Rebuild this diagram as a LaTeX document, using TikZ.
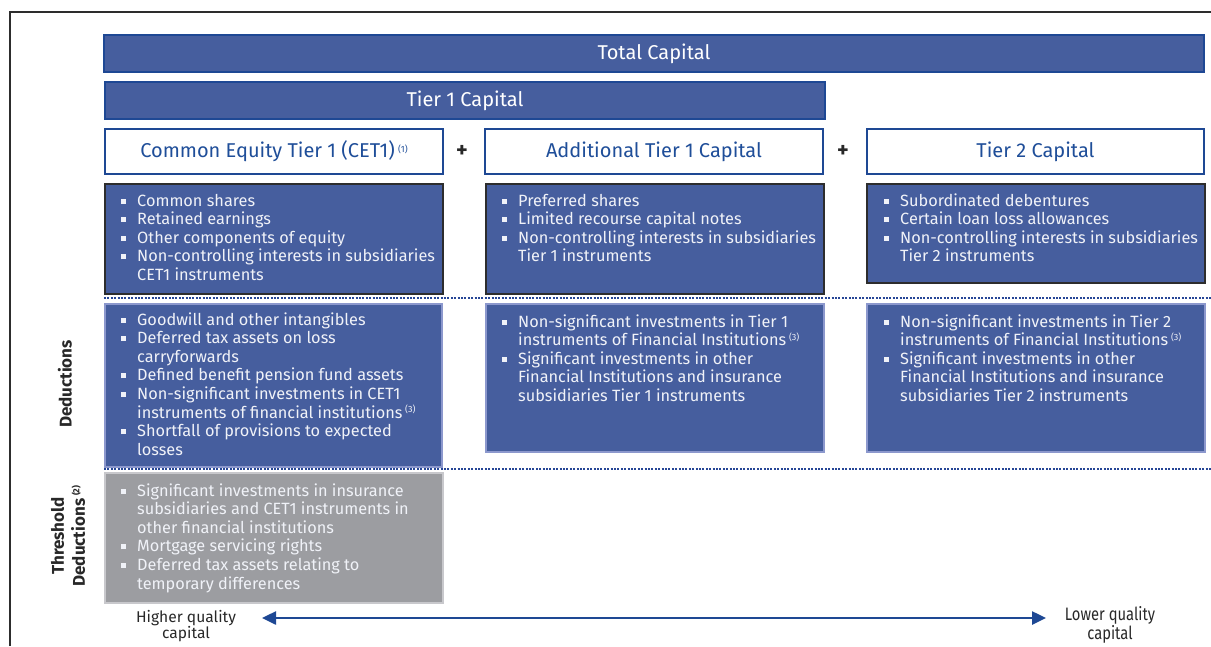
\documentclass[tikz,border=0pt]{standalone}
\usepackage{fontspec}
\setmainfont{Fira Sans}
\usetikzlibrary{arrows.meta}
\definecolor{boxblue}{RGB}{70,94,158}
\definecolor{edgeblue}{RGB}{30,72,148}
\definecolor{hdrblue}{RGB}{31,78,153}
\definecolor{dotblue}{RGB}{38,70,150}
\definecolor{dedge}{RGB}{140,152,205}
\definecolor{greybox}{RGB}{156,157,161}
\definecolor{greyedge}{RGB}{200,200,204}
\definecolor{itemwhite}{RGB}{240,242,248}
\definecolor{framegrey}{RGB}{45,45,45}
\definecolor{lbltext}{RGB}{40,40,40}
\newcommand{\blt}{\makebox[16pt][l]{\rule[2.5pt]{5pt}{5pt}}}
\newcommand{\sups}[1]{\,{\fontsize{9}{9}\selectfont\raisebox{5.5pt}{(#1)}}}
\tikzset{
  x=1pt, y=-1pt,
  bar/.style={draw=edgeblue, line width=2pt, fill=boxblue, inner sep=0pt, anchor=north west,
    text=white, font=\fontsize{20}{24}\selectfont},
  hdr/.style={draw=edgeblue, line width=2pt, fill=white, inner sep=0pt, anchor=north west,
    text=hdrblue, font=\fontsize{20}{24}\selectfont},
  itembox/.style={draw=framegrey, line width=2pt, fill=boxblue, inner sep=0pt, anchor=north west},
  dedbox/.style={draw=dedge, line width=2pt, fill=boxblue, inner sep=0pt, anchor=north west},
  thrbox/.style={draw=greyedge, line width=1.5pt, fill=greybox, inner sep=0pt, anchor=north west},
  items/.style={anchor=base west, inner sep=0pt, text=itemwhite, font=\fontsize{16.3}{18.6}\selectfont},
  dotline/.style={draw=dotblue, line width=2.6pt, dash pattern=on 2pt off 1.4pt},
  sidelbl/.style={rotate=90, font=\bfseries\fontsize{17}{21}\selectfont, text=lbltext, align=center, inner sep=0pt},
  plus/.style={font=\bfseries\fontsize{22}{24}\selectfont, text=lbltext, inner sep=0pt},
  qual/.style={font=\fontsize{15.6}{16.5}\selectfont, text=lbltext, align=center, inner sep=0pt},
  qarrow/.style={draw=edgeblue, line width=2.5pt, {Triangle[length=14pt,width=13pt]}-{Triangle[length=14pt,width=13pt]}}
}
\begin{document}
\begin{tikzpicture}
\useasboundingbox (0,0) rectangle (1211,646);
% frame
\draw[framegrey, line width=2pt] (10,646) -- (10,12) -- (1211,12);

% top bars
\node[bar, minimum width=1100pt, minimum height=37pt] (total) at (103,34) {};
\node[text=white, font=\fontsize{20}{24}\selectfont] (totaltxt) at (total.center) {Total Capital};
\node[bar, minimum width=720pt, minimum height=37pt] (tier1) at (104,81) {};
\node[text=white, font=\fontsize{20}{24}\selectfont] (tier1txt) at (tier1.center) {Tier 1 Capital};

% headers
\node[hdr, minimum width=338pt, minimum height=45pt] (cet1h) at (104,128) {Common Equity Tier 1 (CET1)\sups{1}};
\node[plus] (plus1) at (462,151) {+};
\node[hdr, minimum width=338pt, minimum height=45pt] (at1h) at (484,128) {Additional Tier 1 Capital};
\node[plus] (plus2) at (843,151) {+};
\node[hdr, minimum width=337pt, minimum height=45pt] (t2h) at (866,128) {Tier 2 Capital};

% components
\node[itembox, minimum width=338pt, minimum height=110pt] (cet1i) at (104,183) {};
\node[itembox, minimum width=338pt, minimum height=110pt] (at1i) at (485,183) {};
\node[itembox, minimum width=338pt, minimum height=99pt] (t2i) at (866,183) {};

\node[items] (cet1it) at (121,206) {\begin{tabular}[t]{@{}l@{}l@{}}
\blt & Common shares\\
\blt & Retained earnings\\
\blt & Other components of equity\\
\blt & Non-controlling interests in subsidiaries\\
 & CET1 instruments
\end{tabular}};
\node[items] (at1it) at (502,206) {\begin{tabular}[t]{@{}l@{}l@{}}
\blt & Preferred shares\\
\blt & Limited recourse capital notes\\
\blt & Non-controlling interests in subsidiaries\\
 & Tier 1 instruments
\end{tabular}};
\node[items] (t2it) at (884,206) {\begin{tabular}[t]{@{}l@{}l@{}}
\blt & Subordinated debentures\\
\blt & Certain loan loss allowances\\
\blt & Non-controlling interests in subsidiaries\\
 & Tier 2 instruments
\end{tabular}};

% dotted separators
\coordinate (d1a) at (104,298);
\coordinate (d1b) at (1211,298);
\coordinate (d2a) at (104,469);
\coordinate (d2b) at (1211,469);
\draw[dotline] (d1a) -- (d1b);
\draw[dotline] (d2a) -- (d2b);

% deductions
\node[dedbox, minimum width=337pt, minimum height=163pt] (cet1d) at (104,303) {};
\node[dedbox, minimum width=338pt, minimum height=148pt] (at1d) at (485,303) {};
\node[dedbox, minimum width=338pt, minimum height=148pt] (t2d) at (866,303) {};

\node[items] (cet1dt) at (121,325) {\begin{tabular}[t]{@{}l@{}l@{}}
\blt & Goodwill and other intangibles\\
\blt & Deferred tax assets on loss\\
 & carryforwards\\
\blt & Defined benefit pension fund assets\\
\blt & Non-significant investments in CET1\\
 & instruments of financial institutions\sups{3}\\
\blt & Shortfall of provisions to expected\\
 & losses
\end{tabular}};
\node[items] (at1dt) at (502,327) {\begin{tabular}[t]{@{}l@{}l@{}}
\blt & Non-significant investments in Tier 1\\
 & instruments of Financial Institutions\sups{3}\\
\blt & Significant investments in other\\
 & Financial Institutions and insurance\\
 & subsidiaries Tier 1 instruments
\end{tabular}};
\node[items] (t2dt) at (884,327) {\begin{tabular}[t]{@{}l@{}l@{}}
\blt & Non-significant investments in Tier 2\\
 & instruments of Financial Institutions\sups{3}\\
\blt & Significant investments in other\\
 & Financial Institutions and insurance\\
 & subsidiaries Tier 2 instruments
\end{tabular}};

% threshold deductions
\node[thrbox, minimum width=338pt, minimum height=130pt] (thr) at (104,472) {};
\node[items] (thrt) at (121,496) {\begin{tabular}[t]{@{}l@{}l@{}}
\blt & Significant investments in insurance\\
 & subsidiaries and CET1 instruments in\\
 & other financial institutions\\
\blt & Mortgage servicing rights\\
\blt & Deferred tax assets relating to\\
 & temporary differences
\end{tabular}};

% side labels
\node[sidelbl] (dedlbl) at (65,384) {Deductions};
\node[sidelbl] (thrlbl) at (68,536) {Threshold\\Deductions\sups{2}};

% quality arrow
\node[qual] (hq) at (186,626) {Higher quality\\capital};
\node[qual] (lq) at (1110,625) {\scalebox{0.82}[1]{\fontsize{18}{16.5}\selectfont\begin{tabular}{@{}c@{}}Lower quality\\capital\end{tabular}}};
\coordinate (aL) at (262,618);
\coordinate (aR) at (1046,618);
\draw[qarrow] (aL) -- (aR);
\end{tikzpicture}
\end{document}
